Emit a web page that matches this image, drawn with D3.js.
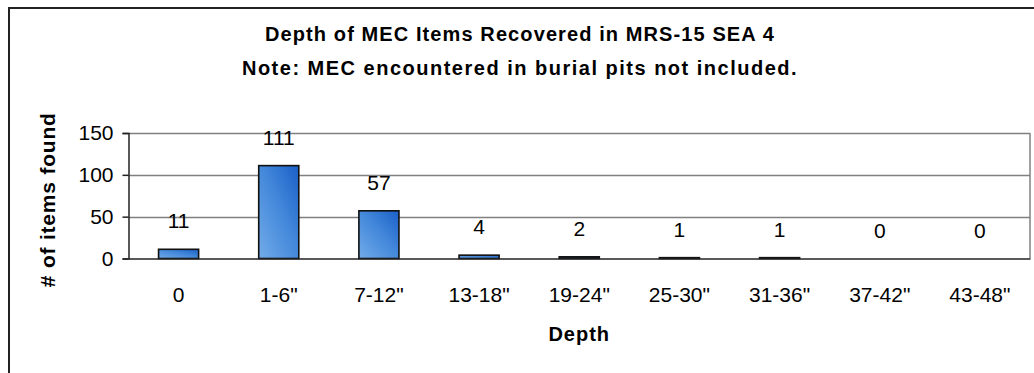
<!DOCTYPE html>
<html>
<head>
<meta charset="utf-8">
<script src="https://cdn.jsdelivr.net/npm/d3@7"></script>
<style>
  html, body { margin: 0; padding: 0; background: #fff; }
  svg { display: block; font-family: "Liberation Sans", Arial, sans-serif; }
</style>
</head>
<body>
<svg id="chart" width="1034" height="373"></svg>
<script>
// Depth bins and counts of MEC items recovered
const depths = ["0", "1-6\"", "7-12\"", "13-18\"", "19-24\"", "25-30\"", "31-36\"", "37-42\"", "43-48\""];
const counts = [11, 111, 57, 4, 2, 1, 1, 0, 0];
const yTicks = [0, 50, 100, 150];
const titleLines = ["Depth of MEC Items Recovered in MRS-15 SEA 4", "Note: MEC encountered in burial pits not included."];
const yTitle = "# of items found";
const xTitle = "Depth";

const FONT = "'Liberation Sans', Arial, sans-serif";
const svg = d3.select("#chart");

// chart frame (runs off the right and bottom edges)
svg.append("path")
  .attr("d", "M9,1200 L9,8 L1200,8")
  .attr("fill", "none").attr("stroke", "#222").attr("stroke-width", 2);

const plot = { left: 128.5, right: 1030, top: 133, bottom: 258.5 };

const x = d3.scaleBand().domain(depths).range([plot.left, plot.right]).paddingInner(0.6).paddingOuter(0.3);
const y = d3.scaleLinear().domain([0, 150]).range([plot.bottom, plot.top]);

// bar gradient
const defs = svg.append("defs");
const grad = defs.append("linearGradient").attr("id", "barFill")
  .attr("x1", "0").attr("y1", "1").attr("x2", "1").attr("y2", "0");
grad.append("stop").attr("offset", "0").attr("stop-color", "#72abe9");
grad.append("stop").attr("offset", "0.55").attr("stop-color", "#4287da");
grad.append("stop").attr("offset", "1").attr("stop-color", "#1a5fc6");

// gridlines
svg.append("g").selectAll("line").data(yTicks.filter(d => d > 0)).join("line")
  .attr("x1", plot.left).attr("x2", plot.right)
  .attr("y1", d => Math.round(y(d)) + 0.5).attr("y2", d => Math.round(y(d)) + 0.5)
  .attr("stroke", "#808080").attr("stroke-width", 1.5);

// right border of plot area
svg.append("line")
  .attr("x1", plot.right).attr("x2", plot.right)
  .attr("y1", plot.top).attr("y2", plot.bottom)
  .attr("stroke", "#808080").attr("stroke-width", 1.5);

// bars
svg.append("g").selectAll("rect").data(depths).join("rect")
  .attr("x", d => x(d))
  .attr("width", x.bandwidth())
  .attr("y", (d, i) => y(counts[i]))
  .attr("height", (d, i) => plot.bottom - y(counts[i]))
  .attr("fill", "url(#barFill)")
  .attr("stroke", (d, i) => counts[i] > 0 ? "#111" : "none")
  .attr("stroke-width", 1.6);

// value labels
svg.append("g").selectAll("text").data(depths).join("text")
  .attr("x", d => x(d) + x.bandwidth() / 2)
  .attr("y", (d, i) => y(counts[i]) - 21)
  .attr("text-anchor", "middle")
  .attr("font-size", 21)
  .attr("fill", "#000")
  .text((d, i) => counts[i]);

// y axis
const yAxis = svg.append("g")
  .attr("transform", `translate(${plot.left},0)`)
  .call(d3.axisLeft(y).tickValues(yTicks).tickSize(6).tickPadding(9));
yAxis.select(".domain").attr("stroke", "#222").attr("stroke-width", 1.5);
yAxis.selectAll(".tick line").attr("stroke", "#222").attr("stroke-width", 1.5);
yAxis.selectAll(".tick text").attr("font-size", 21).attr("fill", "#000")
  .attr("font-family", FONT);

// x axis
const xAxis = svg.append("g")
  .attr("transform", `translate(0,${plot.bottom})`)
  .call(d3.axisBottom(x).tickSize(0).tickPadding(29));
xAxis.select(".domain").attr("stroke", "#222").attr("stroke-width", 1.5);
xAxis.selectAll(".tick text").attr("font-size", 21).attr("fill", "#000")
  .attr("font-family", FONT);

// titles
svg.append("g").selectAll("text").data(titleLines).join("text")
  .attr("x", 520)
  .attr("y", (d, i) => 41 + i * 34)
  .attr("text-anchor", "middle")
  .attr("font-size", 20).attr("font-weight", "bold")
  .attr("letter-spacing", (d, i) => i === 0 ? 1.1 : 1.5)
  .text(d => d);

svg.append("text")
  .attr("transform", `translate(55,${(plot.top + plot.bottom) / 2 + 4}) rotate(-90)`)
  .attr("text-anchor", "middle")
  .attr("font-size", 21).attr("font-weight", "bold")
  .attr("letter-spacing", 0.8)
  .text(yTitle);

svg.append("text")
  .attr("x", (plot.left + plot.right) / 2)
  .attr("y", 341)
  .attr("text-anchor", "middle")
  .attr("font-size", 20).attr("font-weight", "bold")
  .attr("letter-spacing", 1)
  .text(xTitle);
</script>
</body>
</html>
